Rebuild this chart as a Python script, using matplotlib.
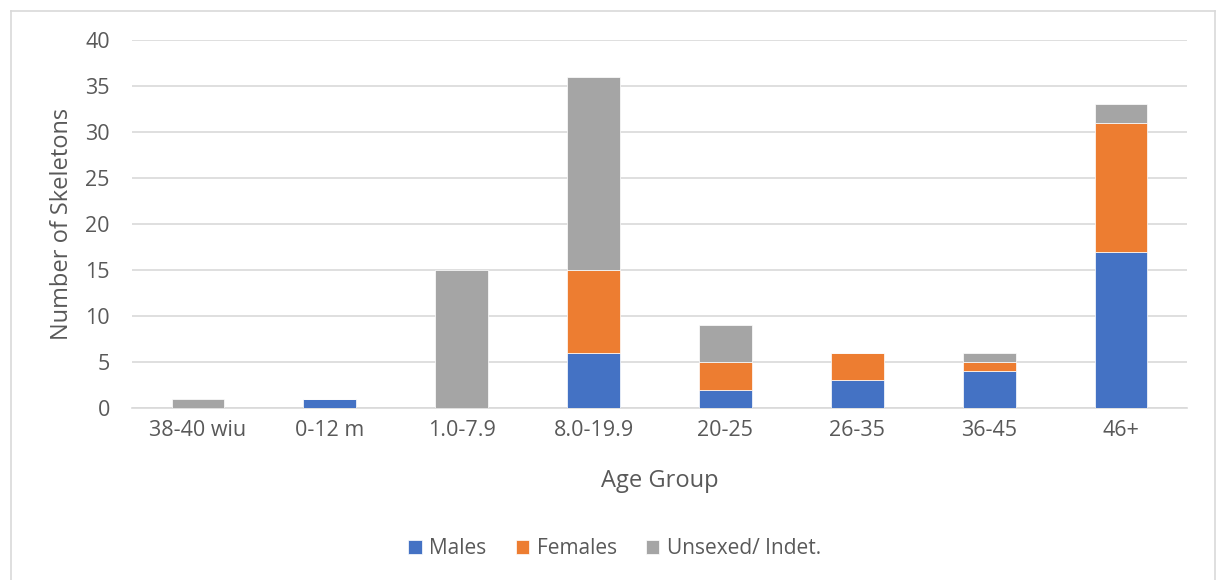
"""Stacked bar chart of skeletons by age group and sex."""

import matplotlib

matplotlib.use("Agg")
import matplotlib.pyplot as plt
from matplotlib.lines import Line2D
import numpy as np

age_groups = ["38-40 wiu", "0-12 m", "1.0-7.9", "8.0-19.9", "20-25", "26-35", "36-45", "46+"]
males = [0, 1, 0, 6, 2, 3, 4, 17]
females = [0, 0, 0, 9, 3, 3, 1, 14]
unsexed = [1, 0, 15, 21, 4, 0, 1, 2]

series_names = ["Males", "Females", "Unsexed/ Indet."]
colors = ["#4472C4", "#ED7D31", "#A5A5A5"]
text_color = "#595959"

plt.rcParams["font.family"] = ["Open Sans", "DejaVu Sans"]

fig = plt.figure(figsize=(12.17, 5.8), dpi=100)
ax = fig.add_axes([0.1085, 0.2966, 0.8668, 0.6344])

x = np.arange(len(age_groups))
bottom = np.zeros(len(age_groups))
for name, values, color in zip(series_names, [males, females, unsexed], colors):
    vals = np.array(values, dtype=float)
    ax.bar(x, vals, width=0.4, bottom=bottom, color=color, label=name,
           edgecolor="white", linewidth=0.5, zorder=3)
    bottom += vals

ax.set_xlim(-0.5, len(age_groups) - 0.5)
ax.set_ylim(0, 40)
ax.set_yticks(range(0, 41, 5))
ax.set_xticks(x, labels=age_groups)
ax.tick_params(axis="both", length=0, colors=text_color, labelsize=15.5)
ax.tick_params(axis="x", pad=9)
ax.tick_params(axis="y", pad=16)
ax.yaxis.grid(True, color="#D9D9D9", linewidth=1.2, zorder=0)
for side in ["top", "right", "left"]:
    ax.spines[side].set_visible(False)
ax.spines["bottom"].set_color("#D9D9D9")
ax.spines["bottom"].set_linewidth(1.2)

ax.set_xlabel("Age Group", fontsize=17, color=text_color, labelpad=20)
ax.set_ylabel("Number of Skeletons", fontsize=17, color=text_color, labelpad=8)

fig.legend(loc="center", bbox_to_anchor=(0.505, 0.054), ncol=3, frameon=False,
           fontsize=15, labelcolor=text_color, handlelength=0.65, handleheight=0.65,
           handletextpad=0.35, columnspacing=1.4)

# light chart-area border (left, top, right)
border = dict(color="#D9D9D9", linewidth=1.2, transform=fig.transFigure)
fig.add_artist(Line2D([11 / 1217, 11 / 1217], [0, 1 - 11 / 580], **border))
fig.add_artist(Line2D([11 / 1217, 1215 / 1217], [1 - 11 / 580, 1 - 11 / 580], **border))
fig.add_artist(Line2D([1215 / 1217, 1215 / 1217], [0, 1 - 11 / 580], **border))

fig.savefig("out.png", dpi=100)
